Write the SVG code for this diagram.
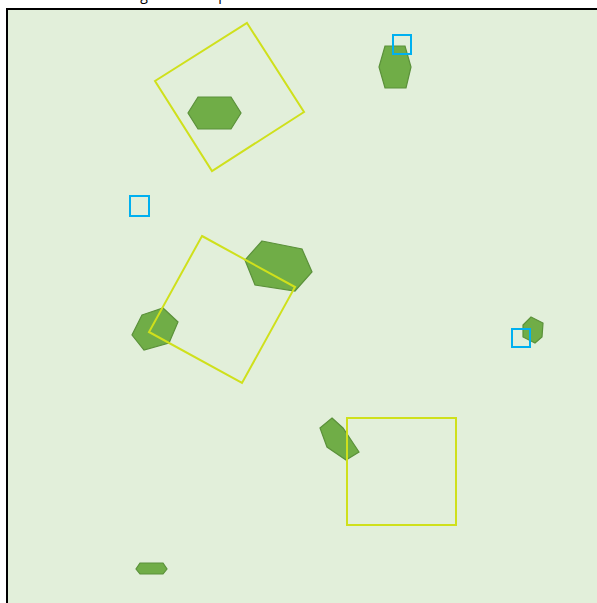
<svg xmlns="http://www.w3.org/2000/svg" width="597" height="603" viewBox="0 0 597 603">
<style>
.patch{fill:#70ad47;stroke:#5b913a;stroke-width:1.2}
.plot{fill:none;stroke:#cfe01c;stroke-width:2}
.mark{fill:none;stroke:#00b0f0;stroke-width:2}
.title{font-family:"Open Sans","Liberation Sans",sans-serif;font-size:14px;fill:#000}
</style>
<rect width="597" height="603" fill="#ffffff"/>
<text class="title" x="124" y="-0.5">Vegetation map</text>
<rect id="frame" x="7" y="9" width="600" height="610" fill="#e2efda" stroke="#000" stroke-width="2"/>
<g id="patches">
<g id="patch1"><polygon class="patch" points="198,97 231,97 241,113 231,129 198,129 188,113"/></g>
<g id="patch2"><polygon class="patch" points="385,46 405,46 411,67 406,88 385,88 379,67"/></g>
<g id="patch3"><polygon class="patch" points="262,241 302,249 312,272 295,291 255,285 245,260"/></g>
<g id="patch4"><polygon class="patch" points="142,315 163,308 178,322 169,343 144,350 132,335"/></g>
<g id="patch5"><polygon class="patch" points="531,317 543,323 542,337 535,343 523,337 523,325"/></g>
<g id="patch6"><polygon class="patch" points="332,418 343,428 359,452 346,460 327,447 320,428"/></g>
<g id="patch7"><polygon class="patch" points="140,563 163,563 167,569 163,574 140,574 136,569"/></g>
</g>
<g id="plots">
<g id="plot1"><polygon class="plot" points="247,23 304,112 212,171 155,81"/></g>
<g id="plot2"><polygon class="plot" points="202,236 295,287 242,383 149,332"/></g>
<g id="plot3"><rect class="plot" x="347" y="418" width="109" height="107"/></g>
</g>
<g id="markers">
<g id="mark1"><rect class="mark" x="393" y="35" width="18" height="19"/></g>
<g id="mark2"><rect class="mark" x="130" y="196" width="19" height="20"/></g>
<g id="mark3"><rect class="mark" x="512" y="329" width="18" height="18"/></g>
</g>
</svg>
